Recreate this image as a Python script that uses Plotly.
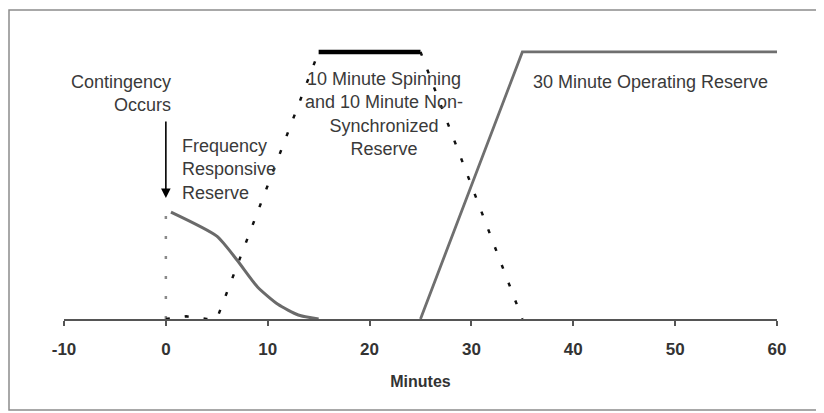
import plotly.graph_objects as go

# ---- data ----
frr_x = [0.5, 5, 7, 9, 11, 13, 15]
frr_y = [40, 31, 22, 12, 5.5, 1.5, 0]

spin_rise_x = [0, 2, 4, 5, 15]
spin_rise_y = [0, 1, 0, 0, 100]
spin_top_x = [15, 25]
spin_top_y = [100, 100]
spin_fall_x = [25, 35]
spin_fall_y = [100, 0]

op_x = [25, 35, 60]
op_y = [0, 100, 100]

cont_x = [0, 0]
cont_y = [0, 40]

tick_vals = [-10, 0, 10, 20, 30, 40, 50, 60]
tick_text = ["-10", "0", "10", "20", "30", "40", "50", "60"]

FONT = "Liberation Sans, Arial, sans-serif"
TXT = "#3a3a3a"

# page has an 8px body margin; figure coords = page coords - 8
L, T = 56, 22
PW, PH = 713, 289
AXIS_Y = T + PH  # 311

fig = go.Figure()

fig.add_trace(go.Scatter(x=cont_x, y=cont_y, mode="lines",
                         line=dict(color="#8a8a8a", width=2.5, dash="3px,17px"),
                         hoverinfo="skip", showlegend=False))
fig.add_trace(go.Scatter(x=spin_rise_x, y=spin_rise_y, mode="lines",
                         line=dict(color="#111", width=2.5, dash="4px,15px"),
                         hoverinfo="skip", showlegend=False))
fig.add_trace(go.Scatter(x=spin_fall_x, y=spin_fall_y, mode="lines",
                         line=dict(color="#111", width=2.5, dash="4px,15px"),
                         hoverinfo="skip", showlegend=False))
fig.add_trace(go.Scatter(x=spin_top_x, y=spin_top_y, mode="lines",
                         line=dict(color="#000", width=4.5),
                         hoverinfo="skip", showlegend=False))
fig.add_trace(go.Scatter(x=frr_x, y=frr_y, mode="lines",
                         line=dict(color="#6a6a6a", width=3, shape="spline", smoothing=0.6),
                         hoverinfo="skip", showlegend=False))
fig.add_trace(go.Scatter(x=op_x, y=op_y, mode="lines",
                         line=dict(color="#6f6f6f", width=2.8),
                         hoverinfo="skip", showlegend=False))

ann = [
    dict(x=0.7, y=84.6, text="Contingency<br>Occurs", xanchor="right", yanchor="middle", align="right"),
    dict(x=1.4, y=55.8, text="Frequency<br>Responsive<br>Reserve", xanchor="left", yanchor="middle", align="left"),
    dict(x=21.4, y=76.6, text="10 Minute Spinning<br>and 10 Minute Non-<br>Synchronized<br>Reserve",
         xanchor="center", yanchor="middle", align="center"),
    dict(x=35.8, y=88.8, text="30 Minute Operating Reserve", xanchor="left", yanchor="middle", align="left"),
]
annotations = [dict(a, xref="x", yref="y", showarrow=False,
                    font=dict(family=FONT, size=18, color=TXT)) for a in ann]
annotations.append(dict(x=0, y=45.3, ax=0, ay=74.5, xref="x", yref="y", axref="x", ayref="y",
                        text="", showarrow=True, arrowhead=2, arrowsize=1.2, arrowwidth=1.6,
                        arrowcolor="#000"))

fig.update_layout(
    width=824, height=413,
    margin=dict(l=L, r=824 - L - PW, t=T, b=413 - AXIS_Y),
    paper_bgcolor="white", plot_bgcolor="white",
    annotations=annotations,
    shapes=[dict(type="rect", xref="paper", yref="paper",
                 x0=(1 - L) / PW, x1=(813 - L) / PW,
                 y0=-(402 - AXIS_Y) / PH, y1=(AXIS_Y - 2) / PH,
                 line=dict(color="#8c8c8c", width=1.5), fillcolor="rgba(0,0,0,0)", layer="below")],
    xaxis=dict(range=[-10, 60], tickvals=tick_vals, ticktext=tick_text,
               showgrid=False, zeroline=False, showline=True, linecolor="#555", linewidth=1.5,
               ticks="outside", ticklen=5, tickcolor="#555", tickwidth=1.5,
               ticklabelstandoff=9,
               tickfont=dict(family=FONT, size=17, color="#333", weight="bold"),
               title=dict(text="<b>Minutes</b>", standoff=18,
                          font=dict(family=FONT, size=16, color="#333"))),
    yaxis=dict(range=[0, 108.2], visible=False, showgrid=False, zeroline=False),
)

fig.write_html("out.html")
